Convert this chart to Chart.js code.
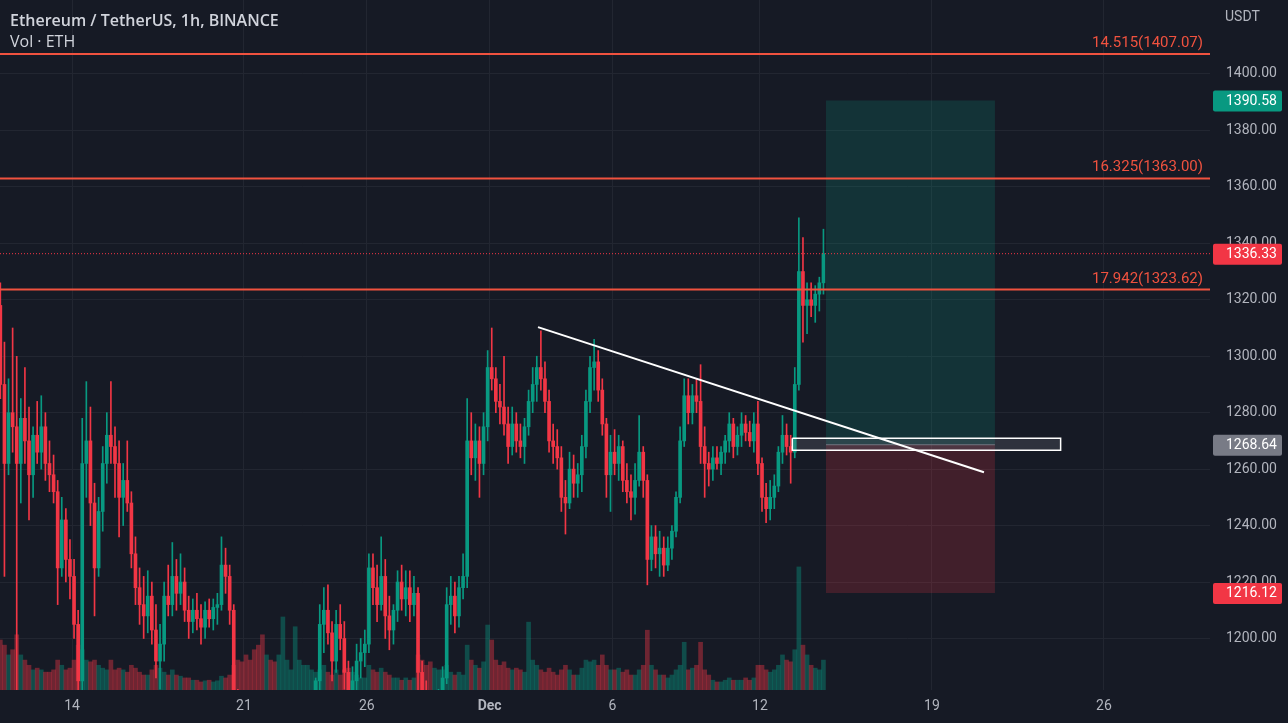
<!DOCTYPE html>
<html><head><meta charset="utf-8">
<script src="https://cdn.jsdelivr.net/npm/chart.js@4"></script>
<style>html,body{margin:0;padding:0;background:#161a25;overflow:hidden}#w{width:1288px;height:723px}canvas{display:block}</style>
</head><body><div id="w"><canvas id="c"></canvas></div>
<script>
// ---------- data (4h candles, UTC) ----------
const candleStart = '2022-11-11T00:00Z';
const candleHours = 4;
const open = [
1318,1290,1262,1280,1275,1262, 1278,1270,1258,1272,1266,1275, 1262,1258,1252,1225,1242,1228,
1222,1205,1185,1262,1270,1248, 1225,1245,1262,1272,1268,1262, 1250,1256,1248,1230,1218,1212,
1208,1215,1203,1192,1198,1215, 1212,1222,1216,1220,1210,1206, 1210,1207,1204,1210,1207,1211,
1212,1226,1222,1210,1178,1160, 1150,1135,1126,1118,1108,1095, 1105,1098,1086,1095,1108,1115,
1125,1135,1145,1158,1165,1172, 1185,1205,1210,1202,1192,1205, 1200,1188,1176,1185,1192,1195,
1198,1225,1218,1212,1222,1208, 1203,1210,1220,1214,1218,1212, 1216,1188,1178,1172,1168,1174,
1176,1186,1212,1215,1208,1218, 1222,1270,1264,1270,1262,1275, 1296,1292,1284,1282,1276,1268,
1276,1270,1268,1275,1284,1290, 1296,1292,1284,1270,1268,1264, 1250,1248,1260,1255,1258,1268,
1284,1296,1298,1288,1276,1258, 1266,1262,1268,1256,1252,1250, 1256,1266,1256,1228,1236,1230,
1232,1226,1232,1238,1250,1270, 1286,1280,1286,1284,1268,1262, 1260,1264,1262,1266,1270,1276,
1268,1272,1276,1273,1270,1276, 1262,1250,1246,1250,1254,1266, 1272,1268,1266,1290,1330,1318,
1320,1318,1322,1326];
const high = [
1326,1305,1292,1310,1300,1285, 1296,1282,1275,1284,1286,1280, 1270,1265,1256,1250,1246,1235,
1228,1210,1278,1291,1282,1255, 1250,1268,1280,1291,1275,1270, 1262,1270,1252,1236,1225,1222,
1224,1220,1212,1205,1220,1226, 1234,1228,1230,1225,1215,1214, 1216,1212,1213,1214,1214,1216,
1236,1232,1226,1212,1182,1168, 1156,1142,1132,1124,1115,1110, 1112,1104,1100,1112,1120,1130,
1140,1150,1162,1170,1180,1186, 1212,1218,1219,1206,1210,1212, 1206,1192,1190,1198,1200,1203,
1230,1230,1226,1236,1228,1215, 1212,1224,1226,1224,1224,1222, 1218,1192,1185,1180,1178,1182,
1190,1218,1222,1220,1222,1230, 1285,1280,1276,1275,1280,1302, 1310,1296,1290,1300,1282,1282,
1280,1276,1278,1288,1296,1300, 1309,1298,1288,1276,1274,1268, 1256,1266,1265,1262,1272,1288,
1300,1306,1302,1292,1278,1272, 1274,1272,1270,1262,1258,1262, 1279,1268,1258,1240,1240,1238,
1236,1236,1240,1252,1275,1292, 1292,1290,1292,1297,1275,1266, 1268,1268,1268,1272,1280,1278,
1275,1280,1279,1277,1280,1284, 1264,1255,1256,1258,1268,1279, 1276,1272,1296,1349,1342,1326,
1326,1325,1328,1345];
const low = [
1285,1222,1258,1266,1178,1248, 1262,1242,1250,1262,1260,1256, 1252,1248,1212,1222,1220,1214,
1200,1170,1180,1250,1240,1208, 1222,1238,1255,1262,1250,1236, 1240,1245,1225,1212,1205,1200,
1202,1198,1186,1182,1192,1208, 1208,1210,1212,1206,1200,1202, 1203,1198,1200,1204,1203,1205,
1210,1216,1205,1170,1150,1140, 1128,1120,1110,1100,1085,1080, 1090,1078,1075,1090,1102,1110,
1120,1130,1140,1150,1160,1168, 1180,1195,1198,1185,1188,1196, 1182,1170,1168,1180,1186,1190,
1195,1212,1206,1210,1200,1196, 1198,1206,1210,1208,1206,1208, 1180,1170,1165,1160,1162,1168,
1172,1184,1205,1202,1204,1214, 1218,1258,1256,1250,1258,1270, 1288,1280,1276,1272,1262,1265,
1266,1264,1262,1272,1280,1284, 1288,1280,1266,1262,1260,1245, 1237,1246,1250,1250,1252,1264,
1280,1288,1284,1272,1250,1245, 1258,1256,1252,1248,1242,1244, 1254,1250,1219,1224,1225,1222,
1222,1224,1228,1236,1248,1268, 1276,1276,1280,1262,1250,1254, 1256,1260,1258,1262,1266,1264,
1265,1268,1270,1268,1266,1258, 1245,1241,1242,1246,1252,1262, 1265,1255,1264,1288,1305,1308,
1314,1312,1316,1322];
const close = [
1290,1262,1280,1275,1262,1278, 1270,1258,1272,1266,1275,1262, 1258,1252,1225,1242,1228,1222,
1205,1185,1262,1270,1248,1225, 1245,1262,1272,1268,1262,1250, 1256,1248,1230,1218,1212,1208,
1215,1203,1192,1198,1215,1212, 1222,1216,1220,1210,1206,1210, 1207,1204,1210,1207,1211,1212,
1226,1222,1210,1178,1160,1150, 1135,1126,1118,1108,1095,1105, 1098,1086,1095,1108,1115,1125,
1135,1145,1158,1165,1172,1185, 1205,1210,1202,1192,1205,1200, 1188,1176,1185,1192,1195,1198,
1225,1218,1212,1222,1208,1203, 1210,1220,1214,1218,1212,1216, 1188,1178,1172,1168,1174,1176,
1186,1212,1215,1208,1218,1222, 1270,1264,1270,1262,1275,1296, 1292,1284,1282,1276,1268,1276,
1270,1268,1275,1284,1290,1296, 1292,1284,1270,1268,1264,1250, 1248,1260,1255,1258,1268,1284,
1296,1298,1288,1276,1258,1266, 1262,1268,1256,1252,1250,1256, 1266,1256,1228,1236,1230,1232,
1226,1232,1238,1250,1270,1286, 1280,1286,1284,1268,1262,1260, 1264,1262,1266,1270,1276,1268,
1272,1276,1273,1270,1276,1262, 1250,1246,1250,1254,1266,1272, 1268,1266,1290,1330,1318,1320,
1318,1322,1326,1336.33];
const volume = [
87,78,61,70,96,61, 52,43,35,38,35,31, 31,35,52,43,35,38, 52,78,70,52,49,52, 43,38,35,52,35,38,
35,31,43,38,31,26, 26,35,43,38,31,26, 35,26,24,21,21,17, 17,14,16,17,14,16, 24,21,26,43,52,49,
61,52,70,78,96,61, 52,49,61,127,52,35, 110,52,43,43,35,31, 35,43,31,26,35,26, 35,38,31,26,21,21,
43,35,31,38,31,26, 21,21,17,21,17,21, 61,52,43,49,38,35, 35,43,31,26,31,26, 78,52,43,38,49,113,
87,52,43,49,38,35, 38,35,31,118,52,43, 35,31,38,31,26,35, 43,35,26,26,38,52, 49,52,43,61,43,35,
35,38,31,35,26,26, 35,43,104,43,35,26, 26,21,26,35,43,83, 35,38,43,83,35,26, 17,14,14,17,21,17,
17,17,21,17,21,43, 43,35,31,35,43,61, 52,49,70,214,78,61, 43,38,35,52];

const xTickDates  = ['2022-11-14','2022-11-21','2022-11-26','2022-12-01','2022-12-06','2022-12-12','2022-12-19','2022-12-26'];
const xTickLabels = ['14','21','26','Dec','6','12','19','26'];
const yTicks = [1200,1220,1240,1260,1280,1300,1320,1340,1360,1380,1400];
const viewStart = '2022-11-11T01:40Z', viewEnd = '2022-12-30T07:36Z';
const priceMin = 1181.75, priceMax = 1426.2;
const volumeMax = 1200;

const levelPrices = [1407.07, 1363.00, 1323.62];
const levelLabels = ['14.515(1407.07)', '16.325(1363.00)', '17.942(1323.62)'];
const lastPrice = 1336.33;
const trendDates = ['2022-12-02T23:12Z', '2022-12-21T02:48Z'];
const trendPrices = [1310.3, 1258.9];
const posDates = ['2022-12-14T16:30Z', '2022-12-21T13:30Z'];
const posTarget = 1390.58, posEntry = 1268.64, posStop = 1216.12;
const zoneDates = ['2022-12-13T07:36Z', '2022-12-24T05:42Z'];
const zonePrices = [1270.9, 1266.7];

const titleText = 'Ethereum / TetherUS, 1h, BINANCE';
const subText = 'Vol \u00b7 ETH';
const currency = 'USDT';

// ---------- styles ----------
const BG = '#161a25', GRID = '#222631', TXT = '#b2b5be';
const UP = '#089981', DN = '#f23645', LVL = '#f0523f', GREY = '#787b86';
const FONT = 'Roboto, "Liberation Sans", sans-serif';

const T0 = Date.parse(candleStart);
const toH = s => (Date.parse(s) - T0) / 3600000;
const xs = close.map((_, i) => i * candleHours + candleHours / 2);
const isUp = i => close[i] >= open[i];
const cCol = close.map((_, i) => isUp(i) ? UP : DN);
const vCol = close.map((_, i) => isUp(i) ? 'rgba(8,153,129,0.4)' : 'rgba(242,54,69,0.4)');
const xMin = toH(viewStart), xMax = toH(viewEnd);

const hLine = (p, color, extra) => Object.assign({
  type: 'line', yAxisID: 'y', data: [{x: xMin, y: p}, {x: xMax, y: p}],
  borderColor: color, borderWidth: 2, pointRadius: 0, fill: false, order: 4
}, extra || {});
const rectPts = (d0, d1, p0, p1) => [
  {x: toH(d0), y: p0}, {x: toH(d1), y: p0}, {x: toH(d1), y: p1}, {x: toH(d0), y: p1}, {x: toH(d0), y: p0}];

const datasets = [
  {type: 'line', yAxisID: 'y', data: rectPts(posDates[0], posDates[1], posTarget, posEntry),
   fill: 'shape', backgroundColor: 'rgba(8,153,129,0.2)', borderWidth: 0, pointRadius: 0, order: 20},
  {type: 'line', yAxisID: 'y', data: rectPts(posDates[0], posDates[1], posEntry, posStop),
   fill: 'shape', backgroundColor: 'rgba(242,54,69,0.2)', borderWidth: 0, pointRadius: 0, order: 20},
  {type: 'line', yAxisID: 'y', data: [{x: toH(posDates[0]), y: posEntry}, {x: toH(posDates[1]), y: posEntry}],
   borderColor: 'rgba(120,123,134,0.9)', borderWidth: 1, pointRadius: 0, fill: false, order: 19},
  {type: 'bar', yAxisID: 'yv', data: volume.map((v, i) => ({x: xs[i], y: v})),
   backgroundColor: vCol, barThickness: 4, grouped: false, order: 15},
  {type: 'bar', yAxisID: 'y', data: xs.map((x, i) => ({x, y: [low[i], high[i]]})),
   backgroundColor: cCol, barThickness: 1, grouped: false, order: 6},
  {type: 'bar', yAxisID: 'y', data: xs.map((x, i) => ({x, y: [open[i], close[i]]})),
   backgroundColor: cCol, barThickness: 3, minBarLength: 1, grouped: false, order: 5},
  ...levelPrices.map(p => hLine(p, LVL)),
  hLine(lastPrice, DN, {borderWidth: 1, borderDash: [1, 2]}),
  {type: 'line', yAxisID: 'y', data: rectPts(zoneDates[0], zoneDates[1], zonePrices[0], zonePrices[1]),
   fill: 'shape', backgroundColor: 'rgba(120,123,134,0.25)', borderColor: '#ffffff', borderWidth: 1.5,
   pointRadius: 0, order: 2},
  {type: 'line', yAxisID: 'y', data: trendDates.map((d, i) => ({x: toH(d), y: trendPrices[i]})),
   borderColor: '#ffffff', borderWidth: 2, pointRadius: 0, fill: false, order: 1}
];

const overlay = {
  id: 'overlay',
  beforeDraw(c) {
    const ctx = c.ctx; ctx.save(); ctx.fillStyle = BG; ctx.fillRect(0, 0, c.width, c.height); ctx.restore();
  },
  afterDraw(c) {
    const {ctx, chartArea: a} = c; const y = c.scales.y;
    ctx.save();
    ctx.font = '15px ' + FONT; ctx.textAlign = 'right'; ctx.textBaseline = 'alphabetic'; ctx.fillStyle = LVL;
    levelPrices.forEach((p, i) => ctx.fillText(levelLabels[i], a.right - 7, y.getPixelForValue(p) - 7));
    ctx.font = '14px ' + FONT;
    const tags = [[posTarget, UP], [lastPrice, DN], [posEntry, GREY], [posStop, DN]];
    tags.forEach(([p, col]) => {
      const py = y.getPixelForValue(p);
      ctx.fillStyle = col; ctx.beginPath();
      ctx.roundRect(a.right + 3, py - 10, 69, 21, 2); ctx.fill();
      ctx.fillStyle = '#ffffff'; ctx.textAlign = 'left'; ctx.textBaseline = 'middle';
      ctx.fillText(p.toFixed(2), a.right + 16, py + 1);
    });
    ctx.fillStyle = TXT; ctx.textAlign = 'left'; ctx.textBaseline = 'middle';
    ctx.fillText(currency, a.right + 15, 17);
    ctx.fillStyle = '#d1d4dc'; ctx.textBaseline = 'alphabetic';
    ctx.font = '600 16px "Open Sans", sans-serif';
    ctx.fillText(titleText, 10, 26);
    ctx.font = '16px "Open Sans", sans-serif';
    ctx.fillText(subText, 10, 47);
    ctx.restore();
  }
};

Chart.defaults.font.family = FONT;
new Chart(document.getElementById('c'), {
  type: 'bar',
  data: {datasets},
  options: {
    responsive: true, maintainAspectRatio: false, animation: false, devicePixelRatio: 1,
    layout: {padding: 0},
    plugins: {legend: {display: false}, tooltip: {enabled: false}, title: {display: false}},
    scales: {
      x: {
        type: 'linear', min: xMin, max: xMax, offset: false,
        grid: {color: GRID, drawTicks: false, offset: false}, border: {display: false},
        ticks: {
          color: TXT, padding: 8, autoSkip: false, maxRotation: 0,
          font: ctx => ({family: FONT, size: 14, weight: xTickLabels[ctx.index] === 'Dec' ? 'bold' : 'normal'}),
          callback: (v, i) => xTickLabels[i]
        },
        afterBuildTicks: s => { s.ticks = xTickDates.map(d => ({value: toH(d + 'T00:00Z')})); },
        afterFit: s => { s.height = 33; s.paddingLeft = 0; s.paddingRight = 0; }
      },
      y: {
        type: 'linear', position: 'right', min: priceMin, max: priceMax,
        grid: {color: GRID, drawTicks: false}, border: {display: false},
        ticks: {color: TXT, padding: 16, font: {size: 14}, autoSkip: false, callback: v => v.toFixed(2)},
        afterBuildTicks: s => { s.ticks = yTicks.map(v => ({value: v})); },
        afterFit: s => { s.width = 78; s.paddingTop = 0; s.paddingBottom = 0; }
      },
      yv: {type: 'linear', display: false, min: 0, max: volumeMax}
    }
  },
  plugins: [overlay]
});
</script></body></html>
